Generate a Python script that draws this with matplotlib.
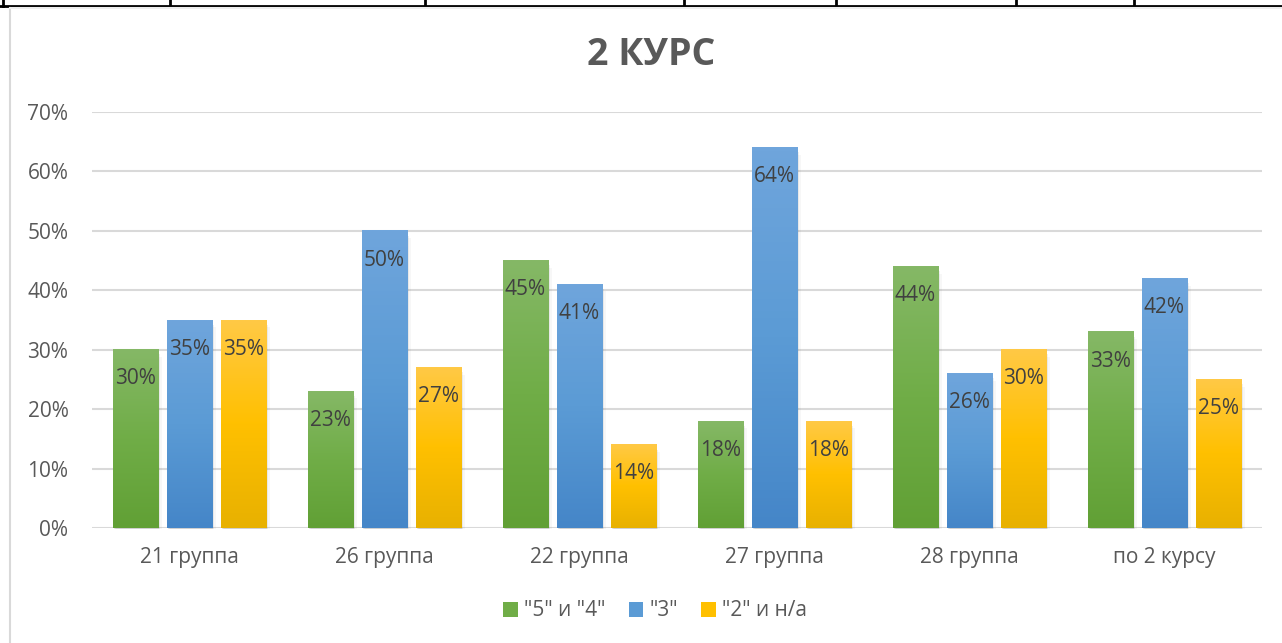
import numpy as np
import matplotlib
matplotlib.use('Agg')
import matplotlib.pyplot as plt
from matplotlib.colors import LinearSegmentedColormap
from matplotlib.lines import Line2D
from matplotlib.patches import Patch

# ****** Data ******
groups = ['21 группа', '26 группа', '22 группа', '27 группа', '28 группа', 'по 2 курсу']
good = [30, 23, 45, 18, 44, 33]
mid = [35, 50, 41, 64, 26, 42]
bad = [35, 27, 14, 18, 30, 25]
series_names = ['"5" и "4"', '"3"', '"2" и н/а']

# gradient colours (top, middle, bottom)
grads = [('#85B866', '#70AD47', '#61A035'),
         ('#6FA5DC', '#5B9BD5', '#4586C8'),
         ('#FFC945', '#FFC000', '#E8B100')]

plt.rcParams['font.family'] = ['Open Sans', 'DejaVu Sans']

fig = plt.figure(figsize=(12.82, 6.43), dpi=100)
ax = fig.add_axes([92 / 1282, 1 - 528 / 643, (1262 - 92) / 1282, (528 - 112) / 643])

x = np.arange(len(groups))
width = 0.232
step = 0.277

for i, vals in enumerate([good, mid, bad]):
    vals = np.array(vals) / 100
    bars = ax.bar(x + (i - 1) * step, vals, width, color='none', zorder=3)
    cmap = LinearSegmentedColormap.from_list('g%d' % i, list(grads[i]))
    for b, v in zip(bars, vals):
        x0 = b.get_x()
        x1 = x0 + b.get_width()
        # soft shadow
        for k, a in enumerate([0.10, 0.06, 0.03]):
            off = 0.006 * (k + 1)
            ax.fill_between([x0 + off, x1 + off], 0 - 0.003 * (k + 1), v - 0.004 * (k + 1),
                            color='black', alpha=a, linewidth=0, zorder=2)
        grad = np.linspace(0, 1, 100).reshape(-1, 1)
        ax.imshow(grad, extent=[x0, x1, 0, v], origin='upper', aspect='auto',
                  cmap=cmap, zorder=3)
        ax.annotate('%d%%' % round(v * 100), (x0 + b.get_width() / 2, v),
                    xytext=(0, -21), textcoords='offset points', ha='center', va='center',
                    fontsize=15, color='#404040', zorder=4)

ax.set_xlim(-0.5, len(groups) - 0.5)
ax.set_ylim(0, 0.7)
ax.set_yticks(np.arange(0, 0.71, 0.1))
ax.set_yticklabels(['%d%%' % t for t in range(0, 71, 10)])
ax.set_xticks(x)
ax.set_xticklabels(groups)
ax.tick_params(axis='both', length=0, labelsize=15, labelcolor='#595959')
ax.tick_params(axis='y', pad=17)
ax.tick_params(axis='x', pad=14)
ax.yaxis.grid(True, color='#D9D9D9', linewidth=1.5, zorder=0)
ax.set_axisbelow(True)
for s in ax.spines.values():
    s.set_visible(False)

fig.text(0.508, 1 - 55 / 643, '2 КУРС', ha='center', va='center',
         fontsize=27, fontweight='bold', color='#595959')

handles = [Patch(facecolor=g[1], edgecolor='none') for g in grads]
fig.legend(handles, series_names, loc='center', bbox_to_anchor=(0.511, 1 - 611 / 643),
           ncol=3, frameon=False, fontsize=15, labelcolor='#595959',
           handlelength=0.7, handleheight=0.7, handletextpad=0.3, columnspacing=1.1)

# page frame / table lines above the chart
fig.add_artist(Line2D([0, 1], [1 - 6 / 643] * 2, color='black', linewidth=2))
for px in [3, 170, 425, 684, 836, 1016, 1134]:
    fig.add_artist(Line2D([px / 1282] * 2, [1 - 6 / 643, 1], color='black', linewidth=2))
fig.add_artist(Line2D([10 / 1282] * 2, [0, 1 - 8 / 643], color='#D9D9D9', linewidth=1.5))
fig.add_artist(Line2D([10 / 1282, 1], [1 - 8 / 643] * 2, color='#EDEDED', linewidth=1.5))

fig.savefig('out.png', dpi=100)
